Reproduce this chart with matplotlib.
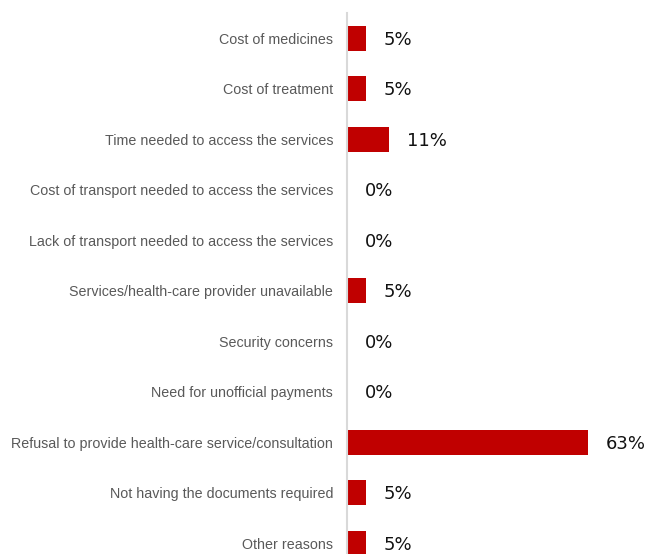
import matplotlib
matplotlib.use("Agg")
import matplotlib.pyplot as plt

reasons = [
    "Cost of medicines",
    "Cost of treatment",
    "Time needed to access the services",
    "Cost of transport needed to access the services",
    "Lack of transport needed to access the services",
    "Services/health-care provider unavailable",
    "Security concerns",
    "Need for unofficial payments",
    "Refusal to provide health-care service/consultation",
    "Not having the documents required",
    "Other reasons",
]
shares = [5, 5, 11, 0, 0, 5, 0, 0, 63, 5, 5]

fig = plt.figure(figsize=(6.49, 5.54), dpi=100)
# axes run past the bottom edge so the last bar is clipped
ax = fig.add_axes([347 / 649, -0.026, 302 / 649, 1.0027])

pos = list(range(len(reasons)))
ax.barh(pos, shares, height=0.5, color="#C00000")

for y, v in zip(pos, shares):
    ax.text(v + 4.6, y + 0.03, f"{v}%", va="center", ha="left",
            fontsize=13, color="#111111", family="DejaVu Sans")

ax.set_xlim(0, 79)
ax.set_ylim(len(reasons) - 0.5, -0.5)
ax.set_yticks(pos)
ax.set_yticklabels(reasons, fontsize=10.3, color="#595959", family="Liberation Sans")
ax.tick_params(axis="y", length=0, pad=10)
ax.set_xticks([])

for side in ["top", "right", "bottom"]:
    ax.spines[side].set_visible(False)
ax.spines["left"].set_color("#D9D9D9")
ax.spines["left"].set_linewidth(1.5)

fig.savefig("out.png", dpi=100)
